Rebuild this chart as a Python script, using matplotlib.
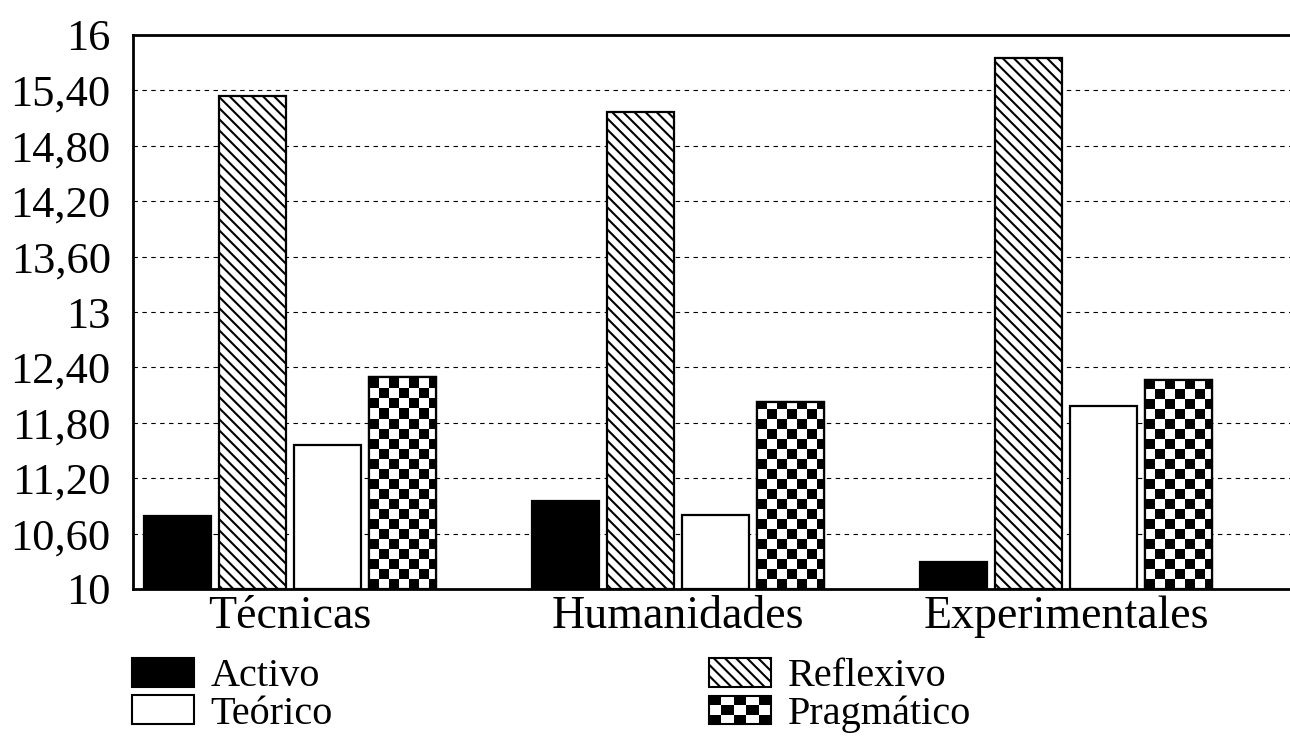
import numpy as np
import matplotlib
matplotlib.use('Agg')
import matplotlib.pyplot as plt
from matplotlib.patches import Rectangle, Patch
from matplotlib.legend_handler import HandlerBase

# ---------------- data ----------------
categories = ['Técnicas', 'Humanidades', 'Experimentales']
series_names = ['Activo', 'Reflexivo', 'Teórico', 'Pragmático']
activo = [10.79, 10.95, 10.29]
reflexivo = [15.34, 15.17, 15.75]
teorico = [11.56, 10.80, 11.98]
pragmatico = [12.30, 12.02, 12.26]
yticks = [10, 10.6, 11.2, 11.8, 12.4, 13, 13.6, 14.2, 14.8, 15.4, 16]
ytick_labels = ['10', '10,60', '11,20', '11,80', '12,40', '13', '13,60',
                '14,20', '14,80', '15,40', '16']

plt.rcParams['font.family'] = ['Liberation Serif', 'DejaVu Serif']
plt.rcParams['hatch.linewidth'] = 1.5
plt.rcParams['hatch.color'] = 'black'

W, H, DPI = 1290, 738, 100
fig = plt.figure(figsize=(W / DPI, H / DPI), dpi=DPI)
ax_l, ax_r, ax_t, ax_b = 133, 1290, 35, 589
ax = fig.add_axes([ax_l / W, 1 - ax_b / H, (ax_r - ax_l) / W, (ax_b - ax_t) / H])

x = np.arange(len(categories))
offsets = [-0.29, -0.097, 0.097, 0.29]
bw = 0.172
ax.set_xlim(-0.4046, 2.577)
ax.set_ylim(10, 16)

edge_lw = 1.6
ax.bar(x + offsets[0], np.array(activo) - 10, bw, bottom=10, color='black',
       edgecolor='black', linewidth=edge_lw, zorder=3)
ax.bar(x + offsets[1], np.array(reflexivo) - 10, bw, bottom=10, color='white',
       edgecolor='black', hatch='\\\\\\', linewidth=edge_lw, zorder=3)
ax.bar(x + offsets[2], np.array(teorico) - 10, bw, bottom=10, color='white',
       edgecolor='black', linewidth=edge_lw, zorder=3)
prag_bars = ax.bar(x + offsets[3], np.array(pragmatico) - 10, bw, bottom=10,
                   color='white', edgecolor='black', linewidth=edge_lw, zorder=3)

# checkerboard fill for Pragmático bars (image clipped to each bar)
sq_px = 10.0
ax_w_px = ax_r - ax_l
ax_h_px = ax_b - ax_t
xr = ax.get_xlim()[1] - ax.get_xlim()[0]
yr = ax.get_ylim()[1] - ax.get_ylim()[0]
dx = sq_px * xr / ax_w_px
dy = sq_px * yr / ax_h_px
for rect in prag_bars:
    x0, y0 = rect.get_x(), rect.get_y()
    w, h = rect.get_width(), rect.get_height()
    nx = int(np.ceil(w / dx))
    ny = int(np.ceil(h / dy))
    ii, jj = np.indices((ny, nx))
    board = ((ii + jj) % 2).astype(float)
    im = ax.imshow(board, cmap='gray', vmin=0, vmax=1, origin='lower',
                   extent=(x0, x0 + nx * dx, y0, y0 + ny * dy),
                   interpolation='nearest', aspect='auto', zorder=3.5)
    im.set_clip_path(rect)
    ax.add_patch(Rectangle((x0, y0), w, h, fill=False, edgecolor='black',
                           linewidth=edge_lw, zorder=4))
ax.set_xlim(-0.4046, 2.577)
ax.set_ylim(10, 16)
ax.set_aspect('auto')

# grid
for yv in yticks[1:-1]:
    ax.axhline(yv, color='black', linewidth=0.8, linestyle=(0, (4, 4)), zorder=1)

ax.set_yticks(yticks)
ax.set_yticklabels(ytick_labels, fontsize=32)
ax.set_xticks(x)
ax.set_xticklabels(categories, fontsize=33)
ax.tick_params(axis='y', length=0, pad=16)
ax.tick_params(axis='x', length=0, pad=5)

for s in ['left', 'bottom', 'top']:
    ax.spines[s].set_linewidth(2)
    ax.spines[s].set_color('black')
ax.spines['right'].set_visible(False)


# legend
class CheckerHandler(HandlerBase):
    def create_artists(self, legend, orig_handle, xdescent, ydescent,
                       width, height, fontsize, trans):
        arts = []
        nx, ny = 5, 3
        sw, sh = width / nx, height / ny
        bg = Rectangle((-xdescent, -ydescent), width, height, facecolor='white',
                       edgecolor='black', linewidth=1.5, transform=trans)
        arts.append(bg)
        for i in range(ny):
            for j in range(nx):
                if (i + j) % 2 == 0:
                    arts.append(Rectangle((-xdescent + j * sw, -ydescent + i * sh),
                                          sw, sh, facecolor='black',
                                          edgecolor='none', transform=trans))
        return arts


h_act = Patch(facecolor='black', edgecolor='black', linewidth=1.5)
h_teo = Patch(facecolor='white', edgecolor='black', linewidth=1.5)
h_ref = Patch(facecolor='white', edgecolor='black', hatch='\\\\\\', linewidth=1.5)
h_pra = Patch(facecolor='white', edgecolor='black', linewidth=1.5)

leg_fs = 29
common = dict(frameon=False, fontsize=leg_fs, handlelength=1.55, handleheight=0.72,
              handletextpad=0.4, labelspacing=0.0, borderpad=0, borderaxespad=0,
              loc='upper left')
leg1 = fig.legend([h_act, h_teo], [series_names[0], series_names[2]],
                  bbox_to_anchor=(132 / W, 1 - 658 / H), **common)
leg2 = fig.legend([h_ref, h_pra], [series_names[1], series_names[3]],
                  bbox_to_anchor=(709 / W, 1 - 658 / H),
                  handler_map={h_pra: CheckerHandler()}, **common)

fig.savefig('out.png', dpi=DPI)
